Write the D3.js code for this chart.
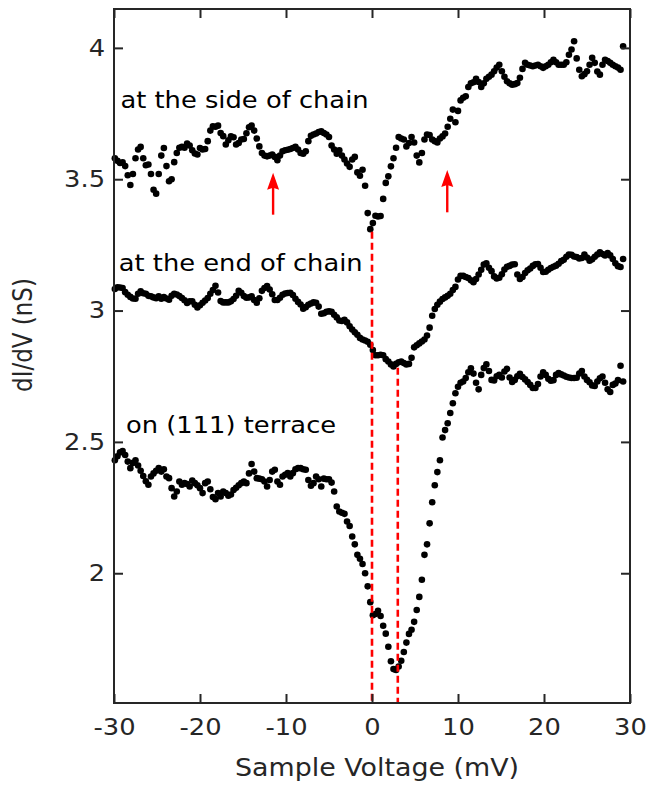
<!DOCTYPE html>
<html>
<head>
<meta charset="utf-8">
<script src="https://d3js.org/d3.v7.min.js"></script>
<style>
    body { margin: 0; background: #fff; }
    svg { display: block; font-family: "DejaVu Sans", Verdana, sans-serif; }
</style>
</head>
<body>
<div id="chart"></div>
<script>

// bias sweep: first point and spacing (mV)
const voltageStart = -29.9;
const voltageStep = 0.3;

// dI/dV (nS) at the side of chain
const sideChain = [
    3.58, 3.57, 3.562, 3.564, 3.55, 3.515, 3.478, 3.52, 3.58, 3.613,
    3.623, 3.58, 3.553, 3.556, 3.52, 3.46, 3.445, 3.52, 3.59, 3.619,
    3.55, 3.492, 3.50, 3.565, 3.60, 3.62, 3.623, 3.62, 3.636, 3.628,
    3.61, 3.598, 3.594, 3.619, 3.613, 3.615, 3.645, 3.685, 3.701, 3.70,
    3.704, 3.676, 3.664, 3.632, 3.648, 3.663, 3.66, 3.632, 3.638, 3.651,
    3.653, 3.675, 3.698, 3.704, 3.685, 3.655, 3.625, 3.60, 3.59, 3.587,
    3.59, 3.594, 3.585, 3.572, 3.59, 3.606, 3.61, 3.612, 3.615, 3.619,
    3.623, 3.613, 3.60, 3.597, 3.606, 3.645, 3.665, 3.67, 3.674, 3.68,
    3.682, 3.676, 3.67, 3.661, 3.628, 3.613, 3.597, 3.61, 3.59, 3.575,
    3.56, 3.547, 3.575, 3.585, 3.526, 3.513, 3.536, 3.475, 3.371, 3.31,
    3.333, 3.361, 3.358, 3.36, 3.425, 3.486, 3.511, 3.549, 3.58, 3.62,
    3.661, 3.655, 3.651, 3.625, 3.638, 3.661, 3.64, 3.59, 3.564, 3.60,
    3.651, 3.67, 3.668, 3.651, 3.645, 3.64, 3.655, 3.663, 3.674, 3.70,
    3.73, 3.765, 3.717, 3.76, 3.80, 3.81, 3.816, 3.851, 3.865, 3.869,
    3.882, 3.87, 3.851, 3.865, 3.882, 3.89, 3.898, 3.911, 3.925, 3.936,
    3.911, 3.89, 3.873, 3.865, 3.86, 3.862, 3.866, 3.886, 3.92, 3.943,
    3.936, 3.933, 3.93, 3.933, 3.936, 3.93, 3.924, 3.93, 3.936, 3.945,
    3.955, 3.945, 3.936, 3.936, 3.936, 3.945, 3.974, 3.994, 4.025, 3.96,
    3.917, 3.892, 3.90, 3.911, 3.936, 3.962, 3.943, 3.91, 3.898, 3.936,
    3.955, 3.95, 3.943, 3.936, 3.93, 3.925, 3.917, 4.006
];

// dI/dV (nS) at the end of chain
const endChain = [
    3.082, 3.089, 3.088, 3.086, 3.07, 3.06, 3.052, 3.046, 3.045, 3.064,
    3.073, 3.066, 3.064, 3.056, 3.054, 3.05, 3.047, 3.054, 3.045, 3.051,
    3.046, 3.041, 3.056, 3.064, 3.061, 3.055, 3.048, 3.039, 3.029, 3.035,
    3.035, 3.022, 3.012, 3.02, 3.03, 3.038, 3.048, 3.064, 3.078, 3.094,
    3.069, 3.036, 3.031, 3.031, 3.031, 3.035, 3.044, 3.056, 3.075, 3.068,
    3.055, 3.049, 3.05, 3.054, 3.04, 3.03, 3.047, 3.075, 3.086, 3.093,
    3.08, 3.062, 3.04, 3.04, 3.049, 3.06, 3.065, 3.067, 3.068, 3.059,
    3.045, 3.033, 3.023, 3.007, 3.013, 3.022, 3.027, 3.031, 3.03, 3.015,
    2.988, 2.99, 2.995, 2.997, 2.995, 2.984, 2.974, 2.962, 2.96, 2.965,
    2.955, 2.94, 2.928, 2.917, 2.908, 2.896, 2.89, 2.886, 2.881, 2.87,
    2.85, 2.83, 2.83, 2.832, 2.83, 2.815, 2.806, 2.795, 2.787, 2.797,
    2.803, 2.806, 2.80, 2.795, 2.797, 2.82, 2.86, 2.868, 2.875, 2.882,
    2.89, 2.905, 2.935, 2.98, 3.006, 3.022, 3.034, 3.044, 3.05, 3.056,
    3.064, 3.078, 3.09, 3.118, 3.132, 3.132, 3.128, 3.124, 3.115, 3.108,
    3.12, 3.137, 3.155, 3.175, 3.18, 3.163, 3.15, 3.13, 3.122, 3.125,
    3.138, 3.156, 3.167, 3.17, 3.175, 3.176, 3.137, 3.12, 3.128, 3.143,
    3.153, 3.16, 3.17, 3.176, 3.177, 3.163, 3.147, 3.148, 3.155, 3.162,
    3.167, 3.171, 3.178, 3.188, 3.193, 3.205, 3.213, 3.212, 3.206, 3.204,
    3.198, 3.2, 3.213, 3.202, 3.19, 3.195, 3.205, 3.213, 3.222, 3.215,
    3.21, 3.219, 3.21, 3.196, 3.18, 3.169, 3.166, 3.196
];

// dI/dV (nS) on (111) terrace
const terrace = [
    2.43, 2.445, 2.46, 2.465, 2.45, 2.425, 2.40, 2.42, 2.43, 2.41,
    2.39, 2.37, 2.35, 2.337, 2.368, 2.38, 2.39, 2.40, 2.387, 2.396,
    2.368, 2.362, 2.324, 2.292, 2.311, 2.349, 2.337, 2.343, 2.34, 2.33,
    2.353, 2.343, 2.335, 2.324, 2.305, 2.343, 2.349, 2.32, 2.29, 2.282,
    2.305, 2.292, 2.311, 2.305, 2.295, 2.30, 2.317, 2.325, 2.335, 2.343,
    2.349, 2.343, 2.38, 2.416, 2.387, 2.362, 2.36, 2.358, 2.349, 2.33,
    2.355, 2.387, 2.394, 2.349, 2.337, 2.368, 2.375, 2.381, 2.368, 2.381,
    2.396, 2.40, 2.40, 2.396, 2.394, 2.355, 2.333, 2.343, 2.368, 2.358,
    2.33, 2.36, 2.358, 2.358, 2.345, 2.311, 2.254, 2.235, 2.23, 2.226,
    2.197, 2.18, 2.14, 2.11, 2.07, 2.055, 2.035, 2.0, 1.95, 1.89,
    1.84, 1.845, 1.857, 1.837, 1.80, 1.77, 1.72, 1.665, 1.635, 1.632,
    1.645, 1.667, 1.70, 1.736, 1.769, 1.785, 1.815, 1.86, 1.91, 1.975,
    2.07, 2.11, 2.19, 2.27, 2.335, 2.385, 2.43, 2.517, 2.545, 2.571,
    2.61, 2.647, 2.685, 2.71, 2.725, 2.73, 2.743, 2.765, 2.78, 2.76,
    2.725, 2.70, 2.755, 2.781, 2.795, 2.77, 2.736, 2.734, 2.75, 2.755,
    2.745, 2.768, 2.778, 2.745, 2.728, 2.736, 2.75, 2.759, 2.747, 2.738,
    2.728, 2.717, 2.705, 2.705, 2.72, 2.749, 2.765, 2.755, 2.74, 2.733,
    2.735, 2.755, 2.762, 2.757, 2.753, 2.748, 2.745, 2.743, 2.743, 2.744,
    2.76, 2.77, 2.749, 2.736, 2.727, 2.715, 2.713, 2.73, 2.742, 2.749,
    2.725, 2.70, 2.69, 2.717, 2.722, 2.735, 2.79, 2.73
];

// axis ticks
const xTicks = [-30, -20, -10, 0, 10, 20, 30];
const yTicks = [2, 2.5, 3, 3.5, 4];

// curve labels (x, y = start of baseline, data units)
const curveLabels = [
    {text: "at the side of chain", x: -29.25, y: 3.771},
    {text: "at the end of chain", x: -29.45, y: 3.149},
    {text: "on (111) terrace", x: -28.6, y: 2.534}
];

// red dashed guides (bias, top value)
const guides = [
    {x: 0, top: 3.30},
    {x: 3, top: 2.782}
];

// red arrows under the side-of-chain curve
const arrows = [
    {x: -11.5, tip: 3.525, tail: 3.365},
    {x: 8.75, tip: 3.535, tail: 3.374}
];

const stretch = 1.12;
const axisColor = "#262626";

const margin = {top: 9, right: 16, bottom: 84, left: 114};
const width = 646 - margin.left - margin.right;
const height = 787 - margin.top - margin.bottom;

const svg = d3.select("#chart").append("svg")
    .attr("width", 646)
    .attr("height", 787)
    .append("g")
    .attr("transform", `translate(${margin.left},${margin.top})`);

const x = d3.scaleLinear().domain([-30, 30]).range([0, width]);
const y = d3.scaleLinear().domain([1.506, 4.148]).range([height, 0]);

const voltages = d3.range(sideChain.length).map(i => voltageStart + i * voltageStep);

// data points
const series = [sideChain, endChain, terrace];
series.forEach(function(vals) {
    svg.append("g")
        .selectAll("circle")
        .data(vals)
        .enter()
        .append("circle")
        .attr("cx", (d, i) => x(voltages[i]))
        .attr("cy", d => y(d))
        .attr("r", 3.3)
        .attr("fill", "#000");
});

// dashed guides
svg.append("g")
    .selectAll("line")
    .data(guides)
    .enter()
    .append("line")
    .attr("x1", d => x(d.x))
    .attr("x2", d => x(d.x))
    .attr("y1", d => y(d.top))
    .attr("y2", height)
    .attr("stroke", "#ff0000")
    .attr("stroke-width", 2.6)
    .attr("stroke-dasharray", "7,4");

// arrows
const arrowGroup = svg.append("g");
arrows.forEach(function(a) {
    const ax = x(a.x);
    const tipY = y(a.tip);
    arrowGroup.append("line")
        .attr("x1", ax).attr("x2", ax)
        .attr("y1", y(a.tail)).attr("y2", tipY + 12)
        .attr("stroke", "#ff0000")
        .attr("stroke-width", 2.4);
    arrowGroup.append("path")
        .attr("d", `M${ax},${tipY} L${ax - 6},${tipY + 17} L${ax},${tipY + 15} L${ax + 6},${tipY + 17} Z`)
        .attr("fill", "#ff0000");
});

// curve labels
svg.append("g")
    .selectAll("text")
    .data(curveLabels)
    .enter()
    .append("text")
    .attr("transform", d => `translate(${x(d.x)},${y(d.y)}) scale(${stretch},1)`)
    .attr("font-size", 23)
    .attr("fill", "#000")
    .text(d => d.text);

// axes, ticks pointing inward on all four sides
function styleAxis(g) {
    g.select(".domain").remove();
    g.selectAll(".tick line").attr("stroke", axisColor).attr("stroke-width", 2);
    g.selectAll(".tick text")
        .attr("fill", axisColor)
        .attr("font-size", 23)
        .attr("font-family", "DejaVu Sans, Verdana, sans-serif")
        .attr("transform", `scale(${stretch},1)`);
}

const plainFormat = d => String(d);

svg.append("g")
    .attr("transform", `translate(0,${height})`)
    .call(d3.axisBottom(x).tickValues(xTicks).tickSizeInner(-9).tickSizeOuter(0).tickPadding(16)
        .tickFormat(plainFormat))
    .call(styleAxis);

svg.append("g")
    .call(d3.axisTop(x).tickValues(xTicks).tickSizeInner(-9).tickSizeOuter(0).tickFormat(""))
    .call(styleAxis);

svg.append("g")
    .call(d3.axisLeft(y).tickValues(yTicks).tickSizeInner(-9).tickSizeOuter(0).tickPadding(8)
        .tickFormat(plainFormat))
    .call(styleAxis);

svg.append("g")
    .attr("transform", `translate(${width},0)`)
    .call(d3.axisRight(y).tickValues(yTicks).tickSizeInner(-9).tickSizeOuter(0).tickFormat(""))
    .call(styleAxis);

// box
svg.append("rect")
    .attr("x", 0)
    .attr("y", 0)
    .attr("width", width)
    .attr("height", height)
    .attr("fill", "none")
    .attr("stroke", axisColor)
    .attr("stroke-width", 2);

// axis titles
svg.append("text")
    .attr("transform", `translate(${width / 2 + 5},${height + 73}) scale(${stretch},1)`)
    .attr("text-anchor", "middle")
    .attr("font-size", 24)
    .attr("fill", axisColor)
    .text("Sample Voltage (mV)");

svg.append("text")
    .attr("transform", `translate(${32 - margin.left},${335 - margin.top}) scale(${stretch},1) rotate(-90)`)
    .attr("text-anchor", "middle")
    .attr("font-size", 23)
    .attr("fill", axisColor)
    .text("dI/dV (nS)");

</script>
</body>
</html>
